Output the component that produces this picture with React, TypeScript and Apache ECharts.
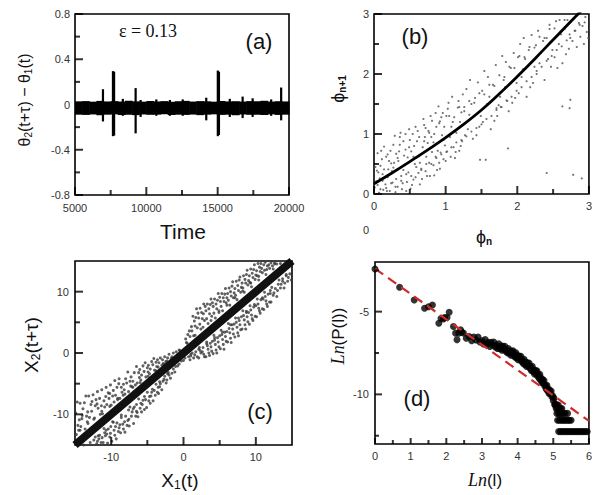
import React, { useEffect, useRef } from "react";
import * as echarts from "echarts";

// ---------- Panel (a): theta2(t+tau) - theta1(t) vs time ----------
const aBandEdges = [5000, 5500, 6000, 6500, 7000, 7500, 8000, 8500, 9000, 9500, 10000, 10500, 11000, 11500, 12000, 12500, 13000, 13500, 14000, 14500, 15000, 15500, 16000, 16500, 17000, 17500, 18000, 18500, 19000, 19500, 20000];
const aBandHigh = [0.028, 0.03, 0.025, 0.032, 0.027, 0.03, 0.026, 0.033, 0.028, 0.025, 0.031, 0.027, 0.03, 0.024, 0.029, 0.032, 0.026, 0.03, 0.028, 0.025, 0.031, 0.027, 0.029, 0.026, 0.03, 0.028, 0.033, 0.026, 0.029, 0.027];
const aBandLow = [-0.09, -0.092, -0.088, -0.095, -0.09, -0.087, -0.093, -0.09, -0.094, -0.088, -0.091, -0.09, -0.086, -0.093, -0.09, -0.092, -0.089, -0.094, -0.09, -0.087, -0.092, -0.09, -0.095, -0.088, -0.091, -0.09, -0.093, -0.087, -0.092, -0.09];
const aSpikeTime = [6960, 7660, 7740, 8350, 9250, 9600, 10700, 11650, 12550, 14200, 15010, 15090, 15850, 16750, 17450, 18750, 19450];
const aSpikeLow = [-0.15, -0.28, -0.275, -0.1, -0.255, -0.11, -0.1, -0.1, -0.1, -0.14, -0.28, -0.27, -0.11, -0.12, -0.11, -0.1, -0.14];
const aSpikeHigh = [0.135, 0.295, 0.29, 0.05, 0.145, 0.04, 0.045, 0.04, 0.045, 0.06, 0.3, 0.29, 0.05, 0.07, 0.055, 0.045, 0.15];
const aXMajor = [5000, 10000, 15000, 20000];
const aXMinor = [7500, 12500, 17500];
const aYMajor = [-0.8, -0.4, 0, 0.4, 0.8];
const aYMinor = [-0.6, -0.2, 0.2, 0.6];

// ---------- Panel (b): return map phi_{n+1} vs phi_n ----------
const bCurveX = [0, 0.25, 0.5, 0.75, 1, 1.25, 1.5, 1.75, 2, 2.25, 2.5, 2.75, 2.9];
const bCurveY = [0.17, 0.35, 0.54, 0.735, 0.94, 1.16, 1.4, 1.67, 1.96, 2.26, 2.57, 2.88, 3.06];
const bCloud = [
  [0.03,0.21],[0.17,0.62],[0.09,0.47],[0.22,0.05],[0.12,0.33],[0.05,0.68],[0.19,0.28],[0.01,0.11],[0.14,0.79],[0.24,0.51],[0.07,0.02],[0.2,0.41],[0.11,0.58],[0.16,0.16],[0.04,0.39],[0.23,0.72],[0.08,0.26],[0.13,0.07],
  [0.27,0.44],[0.41,0.88],[0.33,0.12],[0.47,0.61],[0.29,0.97],[0.38,0.3],[0.45,0.05],[0.31,0.67],[0.43,0.49],[0.36,0.82],[0.26,0.19],[0.49,1.08],[0.34,0.55],[0.4,0.18],[0.48,0.36],[0.3,0.03],[0.44,0.74],[0.37,1.02],
  [0.52,0.71],[0.66,0.42],[0.58,1.12],[0.71,0.95],[0.55,0.24],[0.63,0.63],[0.74,0.3],[0.6,0.88],[0.51,0.09],[0.69,1.25],[0.57,0.5],[0.73,0.62],[0.64,0.16],[0.54,1.0],[0.68,0.78],[0.62,0.35],[0.72,1.1],[0.59,0.6],
  [0.77,0.52],[0.92,1.21],[0.83,0.86],[0.97,0.58],[0.79,1.3],[0.88,0.4],[0.95,0.98],[0.81,0.7],[0.9,1.46],[0.76,1.05],[0.86,0.62],[0.99,0.81],[0.84,0.31],[0.93,0.69],[0.8,0.95],[0.96,1.35],[0.87,1.12],[0.91,0.52],
  [1.02,0.71],[1.17,1.44],[1.08,1.12],[1.23,0.88],[1.04,1.52],[1.13,0.6],[1.2,1.2],[1.06,0.95],[1.15,1.02],[1.24,1.66],[1.01,1.3],[1.11,0.78],[1.19,0.72],[1.09,1.62],[1.22,1.36],
  [1.27,0.98],[1.41,1.6],[1.33,1.32],[1.47,1.12],[1.29,1.75],[1.38,0.92],[1.45,1.86],[1.31,1.08],[1.36,1.5],[1.49,1.3],[1.26,1.45],[1.43,0.98],[1.48,0.57],[1.34,1.9],
  [1.52,1.2],[1.66,1.82],[1.58,1.5],[1.72,1.3],[1.54,2.05],[1.63,1.08],[1.7,2.15],[1.56,0.57],[1.61,1.62],[1.74,1.48],[1.51,1.72],[1.68,1.22],[1.59,1.95],[1.71,1.43],
  [1.77,1.45],[1.91,2.1],[1.83,1.78],[1.97,1.6],[1.79,2.3],[1.88,1.38],[1.95,2.35],[1.81,1.9],[1.86,1.55],[1.99,1.85],[1.76,1.62],[1.87,0.76],[1.93,1.52],[1.84,2.2],
  [2.02,1.68],[2.16,2.4],[2.08,2.08],[2.22,1.85],[2.04,2.5],[2.13,1.62],[2.2,2.65],[2.06,1.95],[2.11,2.25],[2.24,2.12],[2.01,2.28],[2.18,1.78],[2.09,2.6],
  [2.27,2.0],[2.41,2.6],[2.33,2.35],[2.47,2.12],[2.29,2.72],[2.38,1.9],[2.45,2.82],[2.31,2.18],[2.36,2.55],[2.49,2.4],[2.41,0.35],[2.43,2.25],[2.26,2.48],
  [2.52,2.28],[2.66,2.75],[2.58,2.5],[2.72,2.42],[2.54,2.88],[2.63,2.18],[2.7,2.9],[2.56,2.1],[2.61,2.66],[2.74,2.6],[2.63,1.46],[2.68,2.33],[2.74,1.57],[2.73,1.43],
  [2.77,2.55],[2.91,2.8],[2.83,2.45],[2.97,2.7],[2.79,2.92],[2.88,2.62],[2.95,2.95],[2.81,2.72],[2.86,2.85],[2.99,2.6],[2.78,0.32],[2.9,0.26],[2.93,2.5]
];
const bNearCurve = [
  [0.06,0.36],[0.09,0.08],[0.14,0.41],[0.17,0.1],[0.21,0.55],[0.24,0.18],[0.28,0.52],[0.31,0.25],[0.35,0.71],[0.38,0.22],[0.42,0.64],[0.45,0.33],[0.49,0.78],[0.52,0.3],
  [0.56,0.8],[0.59,0.45],[0.63,0.95],[0.66,0.4],[0.7,0.88],[0.73,0.5],[0.77,1.02],[0.8,0.5],[0.84,1.0],[0.87,0.6],[0.91,1.18],[0.94,0.66],[0.98,1.12],[1.01,0.7],
  [1.05,1.3],[1.08,0.78],[1.12,1.28],[1.15,0.86],[1.19,1.45],[1.22,0.9],[1.26,1.38],[1.29,0.96],[1.33,1.55],[1.36,1.04],[1.4,1.52],[1.43,1.1],[1.47,1.68],[1.5,1.16],
  [1.54,1.66],[1.57,1.25],[1.61,1.82],[1.64,1.3],[1.68,1.8],[1.71,1.4],[1.75,1.98],[1.78,1.45],[1.82,1.95],[1.85,1.56],[1.89,2.12],[1.92,1.62],[1.96,2.1],[1.99,1.72],
  [2.03,2.3],[2.06,1.78],[2.1,2.28],[2.13,1.88],[2.17,2.45],[2.2,1.95],[2.24,2.44],[2.27,2.05],[2.31,2.62],[2.34,2.12],[2.38,2.6],[2.41,2.22],[2.45,2.75],[2.48,2.3],
  [2.52,2.76],[2.55,2.4],[2.59,2.9],[2.62,2.46],[2.66,2.9],[2.69,2.56],[2.73,2.66],[2.8,2.72],[2.87,2.82],[2.94,2.86],
  [0.02,0.45],[0.05,0.15],[0.1,0.72],[0.12,0.22],[0.18,0.05],[0.19,0.66],[0.25,0.38],[0.27,0.82],[0.3,0.12],[0.33,0.6],[0.36,0.95],[0.39,0.08],[0.41,0.4],[0.44,1.0],
  [0.46,0.2],[0.5,0.9],[0.53,0.15],[0.55,0.62],[0.58,0.28],[0.61,1.05],[0.64,0.52],[0.67,0.25],[0.7,1.15],[0.72,0.38],[0.75,0.85],[0.78,0.3],[0.81,1.22],[0.83,0.48],
  [0.86,1.35],[0.89,0.72],[0.92,0.42],[0.94,1.28],[0.97,0.9],[1.0,0.55],[1.03,1.42],[1.07,0.62],[1.1,1.2],[1.14,0.7],[1.18,1.55],[1.21,0.8]
];
const bMajor = [0, 1, 2, 3];
const bMinor = [0.5, 1.5, 2.5];

// ---------- Panel (c): X2(t+tau) vs X1(t) ----------
const cDiagX = [-15, 15];
const cDiagY = [-15, 15];
const cUpperLeft = [
  [-14.8,-13.3],[-14.6,-11.8],[-14.9,-9.8],[-14.7,-8.0],[-14.5,-12.6],[-14.4,-10.9],[-14.2,-12.0],[-14.0,-10.2],[-14.3,-8.2],[-13.9,-9.1],
  [-13.6,-12.4],[-13.4,-10.3],[-13.7,-8.1],[-13.5,-7.0],[-13.3,-11.2],[-13.0,-10.5],[-12.8,-8.4],[-13.1,-7.0],[-12.7,-9.5],
  [-12.4,-10.8],[-12.2,-8.6],[-12.5,-6.8],[-12.1,-7.6],[-11.8,-9.0],[-11.6,-7.4],[-11.9,-6.3],[-11.5,-10.0],
  [-11.2,-9.9],[-11.0,-7.8],[-11.3,-6.0],[-10.9,-8.8],[-10.6,-8.4],[-10.4,-6.5],[-10.7,-5.6],[-10.3,-7.4],
  [-10.0,-8.5],[-9.8,-7.0],[-10.1,-5.2],[-9.7,-6.1],[-9.4,-6.9],[-9.2,-5.6],[-9.5,-4.5],[-9.1,-7.6],
  [-8.8,-7.4],[-8.6,-5.6],[-8.9,-4.2],[-8.5,-6.4],[-8.2,-6.0],[-8.0,-4.2],[-8.3,-5.1],
  [-7.6,-6.3],[-7.4,-4.6],[-7.7,-3.1],[-7.3,-5.4],[-7.0,-4.6],[-6.8,-3.2],[-7.1,-5.5],
  [-6.4,-4.9],[-6.2,-3.2],[-6.5,-2.2],[-6.1,-4.0],[-5.8,-3.6],[-5.6,-2.1],[-5.9,-4.4],
  [-5.2,-3.9],[-5.0,-2.4],[-5.3,-1.6],[-4.9,-3.1],[-4.6,-2.6],[-4.4,-1.4],[-4.7,-3.4],
  [-4.0,-2.8],[-3.8,-1.5],[-4.1,-0.9],[-3.7,-2.2],[-3.4,-1.6],[-3.2,-0.8],[-3.5,-2.3],
  [-2.8,-1.7],[-2.6,-0.6],[-2.9,-1.1],[-2.2,-0.8],[-2.0,-0.2],[-2.3,-1.3],[-1.6,-0.6],[-1.4,0.0],[-1.0,0.2],[-0.8,-0.3],[-0.5,0.4],
  [-14.05,-10.7],[-13.25,-9.6],[-12.65,-7.9],[-11.95,-8.3],[-11.35,-8.6],[-10.75,-7.1],[-10.2,-6.6],[-9.6,-8.0],[-8.95,-5.0],[-8.35,-6.9],
  [-7.85,-4.9],[-7.25,-3.9],[-6.65,-5.2],[-6.05,-2.7],[-5.45,-3.0],[-4.85,-2.0],[-4.25,-1.9],[-3.6,-1.1],[-3.0,-2.0],[-2.45,-1.4]
];
const cLowerLeft = [
  [-12.2,-13.7],[-12.0,-14.8],[-12.4,-14.2],[-11.6,-13.4],[-11.4,-14.6],[-11.7,-14.0],
  [-11.0,-12.3],[-10.8,-13.5],[-11.1,-14.6],[-10.9,-13.0],[-10.4,-12.4],[-10.2,-13.7],[-10.5,-14.7],[-10.1,-13.1],
  [-9.8,-11.2],[-9.6,-12.6],[-9.9,-14.4],[-9.5,-13.4],[-9.2,-11.4],[-9.0,-12.8],[-9.3,-14.0],[-8.9,-12.2],
  [-8.6,-10.1],[-8.4,-11.6],[-8.7,-13.0],[-8.3,-12.4],[-8.0,-10.3],[-7.8,-11.8],[-8.1,-12.9],[-7.7,-11.0],
  [-7.4,-8.8],[-7.2,-10.3],[-7.5,-11.9],[-7.1,-9.6],[-6.8,-8.8],[-6.6,-10.3],[-6.9,-11.5],[-6.5,-9.5],
  [-6.2,-7.5],[-6.0,-9.0],[-6.3,-10.4],[-5.9,-8.2],[-5.6,-7.7],[-5.4,-9.2],[-5.7,-8.4],
  [-5.0,-6.4],[-4.8,-7.8],[-5.1,-8.9],[-4.7,-7.1],[-4.4,-6.4],[-4.2,-7.8],[-4.5,-7.0],
  [-3.8,-5.1],[-3.6,-6.4],[-3.9,-6.9],[-3.5,-5.6],[-3.2,-5.0],[-3.0,-6.0],[-3.3,-5.5],
  [-2.6,-3.8],[-2.4,-4.9],[-2.7,-4.3],[-2.0,-3.6],[-1.8,-4.1],[-2.1,-3.2],[-1.4,-2.6],[-1.2,-3.1],[-0.8,-2.1],[-0.6,-1.8],[-0.3,-1.3],
  [-11.9,-14.4],[-11.25,-13.8],[-10.6,-13.2],[-10.05,-12.0],[-9.4,-12.0],[-8.8,-11.7],[-8.15,-11.2],[-7.55,-10.8],[-6.95,-9.1],
  [-6.4,-9.7],[-5.8,-9.6],[-5.25,-7.6],[-4.6,-8.2],[-4.05,-6.1],[-3.45,-6.6],[-2.85,-4.6],[-2.3,-4.4],[-1.6,-3.3]
];
const cUpperRight = [
  [0.4,1.7],[0.6,3.0],[0.3,2.3],[0.9,2.7],[1.1,4.3],[0.8,3.6],[1.4,2.8],[1.6,4.4],[1.3,6.0],[1.5,5.2],
  [1.9,4.1],[2.1,5.7],[1.8,7.2],[2.0,6.5],[2.4,3.9],[2.6,5.6],[2.3,7.3],[2.5,6.6],[2.9,5.3],[3.1,6.9],[2.8,8.0],[3.0,7.6],
  [3.4,4.8],[3.6,6.4],[3.3,8.0],[3.5,7.2],[3.9,6.0],[4.1,7.6],[3.8,8.8],[4.0,8.2],[4.4,5.7],[4.6,7.2],[4.3,8.8],[4.5,8.0],
  [4.9,6.9],[5.1,8.4],[4.8,9.7],[5.0,9.1],[5.4,6.9],[5.6,8.4],[5.3,9.7],[5.5,9.0],[5.9,8.2],[6.1,9.7],[5.8,10.5],[6.0,9.0],
  [6.4,7.8],[6.6,9.3],[6.3,10.6],[6.5,10.0],[6.9,9.0],[7.1,10.5],[6.8,11.6],[7.0,9.8],[7.4,8.7],[7.6,10.2],[7.3,11.7],[7.5,11.0],
  [7.9,9.9],[8.1,11.4],[7.8,12.4],[8.0,10.7],[8.4,9.9],[8.6,11.4],[8.3,12.6],[8.5,12.0],[8.9,11.1],[9.1,12.6],[8.8,13.5],[9.0,11.8],
  [9.4,10.8],[9.6,12.3],[9.3,13.7],[9.5,13.0],[9.9,12.0],[10.1,13.4],[9.8,14.4],[10.0,12.7],[10.4,11.9],[10.6,13.3],[10.3,14.6],[10.5,14.0],
  [10.9,13.1],[11.1,14.4],[10.8,13.8],[11.4,12.8],[11.6,14.2],[11.3,14.8],[11.9,13.8],[12.1,14.7],[12.4,13.7],[12.6,14.7],[12.9,14.5],[13.4,14.6],
  [1.15,3.6],[1.7,5.8],[2.25,4.7],[2.75,6.4],[3.2,5.6],[3.7,7.9],[4.2,6.5],[4.7,8.6],[5.2,7.6],[5.7,9.6],[6.2,8.6],[6.7,10.9],
  [7.2,9.4],[7.7,11.9],[8.2,10.6],[8.7,12.8],[9.2,11.5],[9.7,13.6],[10.2,12.6],[10.7,14.6],[11.2,13.5],[11.8,14.4],[12.3,14.2]
];
const cLowerRight = [
  [0.2,-0.8],[0.7,-0.6],[0.9,-1.1],[1.2,0.0],[1.4,-0.8],[1.7,0.2],[1.9,-0.6],[2.2,0.9],[2.4,0.0],[2.1,-0.8],
  [2.7,0.9],[2.9,-0.6],[2.6,0.2],[3.2,1.8],[3.4,0.6],[3.1,-0.6],[3.3,1.2],[3.7,1.6],[3.9,0.3],[3.6,-0.4],[3.8,1.0],
  [4.2,2.9],[4.4,1.4],[4.1,-0.1],[4.3,2.1],[4.7,2.5],[4.9,1.0],[4.6,0.0],[4.8,1.8],[5.2,3.7],[5.4,2.2],[5.1,0.7],[5.3,3.0],
  [5.7,3.4],[5.9,1.9],[5.6,0.6],[5.8,2.7],[6.2,4.8],[6.4,3.3],[6.1,1.8],[6.3,4.0],[6.7,4.6],[6.9,3.1],[6.6,1.7],[6.8,3.9],
  [7.2,5.7],[7.4,4.2],[7.1,2.6],[7.3,5.0],[7.7,5.3],[7.9,3.8],[7.6,2.8],[7.8,4.6],[8.2,6.9],[8.4,5.4],[8.1,3.9],[8.3,6.1],
  [8.7,6.6],[8.9,5.1],[8.6,3.9],[8.8,5.9],[9.2,7.7],[9.4,6.2],[9.1,4.7],[9.3,7.0],[9.7,7.5],[9.9,6.0],[9.6,5.3],
  [10.2,8.8],[10.4,7.3],[10.1,5.9],[10.3,8.0],[10.7,8.7],[10.9,7.2],[10.6,6.5],[11.2,9.9],[11.4,8.5],[11.1,7.1],[11.3,9.2],
  [11.7,9.6],[11.9,8.3],[11.6,7.6],[12.2,10.7],[12.4,9.4],[12.1,8.3],[12.7,10.5],[12.9,9.2],[13.2,11.9],[13.4,10.6],
  [13.7,11.7],[13.9,10.6],[14.2,12.8],[14.4,11.7],[14.7,12.9],[14.9,11.9],
  [1.0,-0.5],[1.55,-0.3],[2.3,0.4],[2.8,-0.2],[3.5,0.0],[4.0,1.9],[4.5,0.5],[5.0,2.8],[5.5,1.4],[6.0,3.5],[6.5,2.4],[7.0,4.7],
  [7.5,3.3],[8.0,5.9],[8.5,4.6],[9.0,6.6],[9.5,5.6],[10.0,7.7],[10.5,6.9],[11.0,8.8],[11.5,8.0],[12.0,9.7],[12.5,9.8],[13.0,10.2],[13.5,11.2],[14.0,11.4],[14.5,12.3]
];
const cNearDiag = [
  [-14.3,-12.6],[-13.8,-15.0],[-13.2,-11.5],[-12.9,-14.6],[-12.3,-10.6],[-11.8,-13.5],[-11.3,-9.5],[-10.7,-12.6],[-10.2,-8.7],[-9.7,-11.3],
  [-9.1,-7.4],[-8.6,-10.5],[-8.1,-6.7],[-7.6,-9.3],[-7.0,-5.6],[-6.5,-8.4],[-6.0,-4.8],[-5.4,-7.1],[-4.9,-3.8],[-4.3,-5.9],
  [-3.8,-2.9],[-3.3,-4.7],[-2.7,-1.8],[-2.2,-3.4],[-1.7,-0.9],[-1.1,-2.2],[-0.6,0.5],[0.0,-1.2],[0.5,1.6],[1.0,-0.2],
  [1.6,2.9],[2.1,0.6],[2.7,4.2],[3.2,1.5],[3.8,5.3],[4.3,2.5],[4.9,6.6],[5.4,3.4],[6.0,7.8],[6.5,4.6],[7.1,9.0],[7.6,5.7],
  [8.2,10.1],[8.7,6.8],[9.3,11.4],[9.8,7.9],[10.4,12.5],[10.9,9.0],[11.5,13.6],[12.0,10.2],[12.6,14.5],[13.1,11.2],[13.7,12.1],[14.2,12.6]
];
const cMajor = [-10, 0, 10];
const cMinor = [-5, 5];

// ---------- Panel (d): Ln(P(l)) vs Ln(l) ----------
const dPoints = [
  [0,-2.42],[0.69,-3.53],[1.1,-4.3],[1.39,-4.8],[1.5,-4.7],[1.61,-4.6],[1.79,-5.7],[1.85,-5.42],[1.92,-5.45],[1.95,-5.36],[2.02,-5.35],[2.08,-5.04],[2.2,-5.9],[2.26,-6.3],[2.3,-6.7],[2.35,-6.3],[2.4,-6.1],[2.43,-6.25],
  [2.48,-6.29],[2.56,-6.61],[2.64,-6.5],[2.71,-6.76],[2.77,-6.53],[2.83,-6.71],[2.89,-6.54],[2.94,-6.84],[3.0,-6.76],[3.04,-6.96],
  [3.09,-6.69],[3.14,-6.99],[3.18,-6.85],[3.22,-7.1],[3.26,-6.86],[3.3,-7.02],[3.33,-6.83],[3.37,-7.13],[3.4,-7.03],[3.43,-7.22],
  [3.47,-6.95],[3.5,-7.24],[3.53,-7.09],[3.56,-7.33],[3.58,-7.08],[3.61,-7.26],[3.64,-7.09],[3.66,-7.38],[3.69,-7.3],[3.71,-7.49],
  [3.74,-7.23],[3.76,-7.52],[3.78,-7.38],[3.81,-7.63],[3.83,-7.39],[3.85,-7.55],[3.87,-7.37],[3.89,-7.66],[3.91,-7.57],[3.93,-7.76],
  [3.95,-7.49],[3.97,-7.79],[3.99,-7.65],[4.01,-7.91],[4.04,-7.69],[4.06,-7.86],[4.09,-7.7],[4.11,-8.01],[4.13,-7.92],[4.16,-8.14],
  [4.18,-7.88],[4.2,-8.19],[4.22,-8.05],[4.25,-8.32],[4.27,-8.09],[4.29,-8.26],[4.32,-8.1],[4.34,-8.41],[4.36,-8.33],[4.38,-8.55],
  [4.41,-8.31],[4.43,-8.62],[4.45,-8.5],[4.47,-8.76],[4.5,-8.56],[4.52,-8.74],[4.54,-8.58],[4.56,-8.89],[4.58,-8.81],[4.6,-9.03],
  [4.62,-8.78],[4.64,-9.12],[4.66,-9.02],[4.68,-9.3],[4.7,-9.1],[4.72,-9.31],[4.74,-9.16],[4.76,-9.5],[4.78,-9.45],[4.8,-9.68],
  [4.82,-9.45],[4.84,-9.78],[4.86,-9.67],[4.88,-9.95],[4.9,-9.75],[4.92,-9.95],[4.94,-9.8],[4.96,-10.14],[4.98,-10.08],[5.0,-10.38],
  [5.02,-10.22],[5.04,-10.62],[5.06,-10.58],
  [5.05,-10.64],[5.1,-10.64],[5.14,-10.64],
  [5.08,-10.86],[5.12,-10.86],[5.16,-10.86],[5.2,-10.86],[5.24,-10.86],
  [5.1,-11.15],[5.15,-11.15],[5.19,-11.15],[5.23,-11.15],[5.28,-11.15],[5.33,-11.15],[5.4,-11.15],
  [5.12,-11.56],[5.17,-11.56],[5.22,-11.56],[5.27,-11.56],[5.31,-11.56],[5.36,-11.56],[5.41,-11.56],[5.45,-11.56],[5.5,-11.56],
  [5.15,-12.25],[5.2,-12.25],[5.25,-12.25],[5.3,-12.25],[5.35,-12.25],[5.4,-12.25],[5.45,-12.25],[5.5,-12.25],[5.55,-12.25],
  [5.6,-12.25],[5.65,-12.25],[5.7,-12.25],[5.75,-12.25],[5.8,-12.25],[5.85,-12.25],[5.9,-12.25],[5.95,-12.25]
];
const dFitX = [0, 6];
const dFitY = [-2.4, -11.6];
const dXMajor = [0, 1, 2, 3, 4, 5, 6];
const dXMinor = [0.5, 1.5, 2.5, 3.5, 4.5, 5.5];
const dYMajor = [-10, -5];
const dYMinor = [-12.5, -7.5, -2.5];

const SANS = "'Liberation Sans', Arial, Helvetica, sans-serif";
const SERIF = "'Liberation Serif', 'Times New Roman', serif";

function valueAxis(gridIndex: number, position: string, min: number, max: number, labels: number[], margin: number) {
  return {
    type: "value", gridIndex, position, min, max,
    axisLine: { show: false, onZero: false }, splitLine: { show: false }, axisTick: { show: false },
    axisLabel: { show: true, customValues: labels, margin, fontSize: 11, color: "#333", fontFamily: SANS, showMinLabel: true, showMaxLabel: true, formatter: (v: number) => String(v) },
  };
}

// tick marks as thin rect symbols placed through the axes' scales (x ticks point up, y ticks point right)
function xTickSeries(axisIndex: number, values: number[], base: number, len: number) {
  return {
    type: "scatter", xAxisIndex: axisIndex, yAxisIndex: axisIndex, clip: false, silent: true, z: 10,
    data: values.map((v) => [v, base]),
    symbol: "rect", symbolSize: [2, len], symbolOffset: [0, -len / 2],
    itemStyle: { color: "#000" },
  };
}
function yTickSeries(axisIndex: number, values: number[], base: number, len: number) {
  return {
    type: "scatter", xAxisIndex: axisIndex, yAxisIndex: axisIndex, clip: false, silent: true, z: 10,
    data: values.map((v) => [base, v]),
    symbol: "rect", symbolSize: [len, 2], symbolOffset: [len / 2, 0],
    itemStyle: { color: "#000" },
  };
}

function txt(x: number, y: number, text: string, rich: any, rotation = 0) {
  return {
    type: "text", x, y, rotation,
    style: { text, rich, align: "center", verticalAlign: "middle", textAlign: "center", textVerticalAlign: "middle", fill: "#111" },
  };
}

export default function App() {
  const ref = useRef<HTMLDivElement>(null);
  useEffect(() => {
    if (!ref.current) return;
    const chart = echarts.init(ref.current, null, { renderer: "svg" });
    const gridStyle = { show: true, borderColor: "#000", borderWidth: 1.6, backgroundColor: "transparent" };
    const xAxis = [
      valueAxis(0, "bottom", 5000, 20000, aXMajor, 7),
      valueAxis(1, "bottom", 0, 3, bMajor, 6),
      valueAxis(2, "bottom", -15, 15, cMajor, 6),
      valueAxis(3, "bottom", 0, 6, dXMajor, 6),
    ];
    const yAxis = [
      valueAxis(0, "left", -0.8, 0.8, aYMajor, 5),
      valueAxis(1, "left", 0, 3, bMajor, 5),
      valueAxis(2, "left", -15, 15, cMajor, 6),
      valueAxis(3, "left", -13, -2, dYMajor, 6),
    ];
    const bandData = aBandHigh.map((h, i) => [aBandEdges[i], aBandEdges[i + 1], aBandLow[i], h]);
    const spikeData = aSpikeTime.map((t, i) => [t, aSpikeLow[i], aSpikeHigh[i]]);
    const sub = { fontSize: 10, fontFamily: SANS, fill: "#111", padding: [9, 0, 0, 0] };
    chart.setOption({
      animation: false,
      backgroundColor: "#fff",
      grid: [
        { left: 75, top: 14, width: 214, height: 181, ...gridStyle },
        { left: 374, top: 14, width: 215, height: 180, ...gridStyle },
        { left: 75, top: 261, width: 217, height: 184, ...gridStyle },
        { left: 375, top: 262, width: 215, height: 182, ...gridStyle },
      ],
      xAxis,
      yAxis,
      series: [
        {
          type: "custom", xAxisIndex: 0, yAxisIndex: 0, data: bandData, encode: { x: [0, 1], y: [2, 3] },
          renderItem: (params: any, api: any) => {
            const a = api.coord([api.value(0), api.value(3)]);
            const b = api.coord([api.value(1), api.value(2)]);
            return { type: "rect", shape: { x: a[0], y: a[1], width: b[0] - a[0] + 0.6, height: b[1] - a[1] }, style: { fill: "#000" } };
          },
        },
        {
          type: "custom", xAxisIndex: 0, yAxisIndex: 0, data: spikeData, encode: { x: 0, y: [1, 2] },
          renderItem: (params: any, api: any) => {
            const top = api.coord([api.value(0), api.value(2)]);
            const bot = api.coord([api.value(0), api.value(1)]);
            return { type: "rect", shape: { x: top[0] - 1.1, y: top[1], width: 2.2, height: bot[1] - top[1] }, style: { fill: "#000" } };
          },
        },
        {
          type: "scatter", xAxisIndex: 1, yAxisIndex: 1, data: [...bCloud, ...bNearCurve], symbolSize: 2.2, itemStyle: { color: "#555" },
        },
        {
          type: "line", xAxisIndex: 1, yAxisIndex: 1, data: bCurveX.map((x, i) => [x, bCurveY[i]]), showSymbol: false, smooth: 0.4,
          lineStyle: { color: "#000", width: 2.8 },
        },
        {
          type: "scatter", xAxisIndex: 2, yAxisIndex: 2, data: [...cUpperLeft, ...cLowerLeft, ...cUpperRight, ...cLowerRight, ...cNearDiag],
          symbolSize: 3, itemStyle: { color: "#3a3a3a" },
        },
        {
          type: "line", xAxisIndex: 2, yAxisIndex: 2, data: cDiagX.map((x, i) => [x, cDiagY[i]]), showSymbol: false,
          lineStyle: { color: "#111", width: 8 },
        },
        {
          type: "scatter", xAxisIndex: 3, yAxisIndex: 3, data: dPoints, symbolSize: 7, itemStyle: { color: "#000" },
        },
        {
          type: "line", xAxisIndex: 3, yAxisIndex: 3, data: dFitX.map((x, i) => [x, dFitY[i]]), showSymbol: false, z: 5,
          lineStyle: { color: "#d02b2b", width: 2.2, type: [10, 6] },
        },
        xTickSeries(0, aXMajor, -0.8, 8), xTickSeries(0, aXMinor, -0.8, 5),
        yTickSeries(0, aYMajor, 5000, 8), yTickSeries(0, aYMinor, 5000, 5),
        xTickSeries(1, bMajor, 0, 8), xTickSeries(1, bMinor, 0, 5),
        yTickSeries(1, bMajor, 0, 8), yTickSeries(1, bMinor, 0, 5),
        xTickSeries(2, cMajor, -15, 8), xTickSeries(2, cMinor, -15, 5),
        yTickSeries(2, cMajor, -15, 8), yTickSeries(2, cMinor, -15, 5),
        xTickSeries(3, dXMajor, -13, 6), xTickSeries(3, dXMinor, -13, 4),
        yTickSeries(3, dYMajor, 0, 7), yTickSeries(3, dYMinor, 0, 4),
      ],
      graphic: [
        txt(24, 100, "{m|θ}{s|2}{m|(t+τ) − θ}{s|1}{m|(t)}", { m: { fontSize: 16, fontFamily: SANS, fill: "#111" }, s: sub }, Math.PI / 2),
        txt(183, 231, "{m|Time}", { m: { fontSize: 21, fontFamily: SANS, fill: "#111" } }),
        txt(148, 31, "{m|ε = 0.13}", { m: { fontSize: 18, fontFamily: SERIF, fill: "#111" } }),
        txt(259, 41, "{m|(a)}", { m: { fontSize: 22, fontFamily: SANS, fill: "#111" } }),
        txt(415, 36, "{m|(b)}", { m: { fontSize: 22, fontFamily: SANS, fill: "#111" } }),
        txt(338, 89, "{m|ϕ}{s|n+1}", { m: { fontSize: 18, fontFamily: SANS, fill: "#111" }, s: { ...sub, fontWeight: "bold" } }, Math.PI / 2),
        txt(484, 237, "{m|ϕ}{s|n}", { m: { fontSize: 18, fontFamily: SANS, fill: "#111" }, s: { ...sub, fontWeight: "bold" } }),
        txt(366, 230, "{m|0}", { m: { fontSize: 11, fontFamily: SANS, fill: "#333" } }),
        txt(31, 345, "{m|X}{s|2}{m|(t+τ)}", { m: { fontSize: 19, fontFamily: SANS, fill: "#111" }, s: { ...sub, fontSize: 12 } }, Math.PI / 2),
        txt(180, 480, "{m|X}{s|1}{m|(t)}", { m: { fontSize: 19, fontFamily: SANS, fill: "#111" }, s: { ...sub, fontSize: 12 } }),
        txt(260, 411, "{m|(c)}", { m: { fontSize: 22, fontFamily: SANS, fill: "#111" } }),
        txt(338, 336, "{i|Ln}{m|(P(l))}", { i: { fontSize: 18, fontFamily: SERIF, fontStyle: "italic", fill: "#111" }, m: { fontSize: 17, fontFamily: SANS, fill: "#111" } }, Math.PI / 2),
        txt(485, 480, "{i|Ln}{m|(l)}", { i: { fontSize: 18, fontFamily: SERIF, fontStyle: "italic", fill: "#111" }, m: { fontSize: 17, fontFamily: SANS, fill: "#111" } }),
        txt(417, 398, "{m|(d)}", { m: { fontSize: 22, fontFamily: SANS, fill: "#111" } }),
      ],
    });
    return () => chart.dispose();
  }, []);
  return <div ref={ref} style={{ position: "absolute", left: 0, top: 0, width: 595, height: 495, background: "#fff" }} />;
}
